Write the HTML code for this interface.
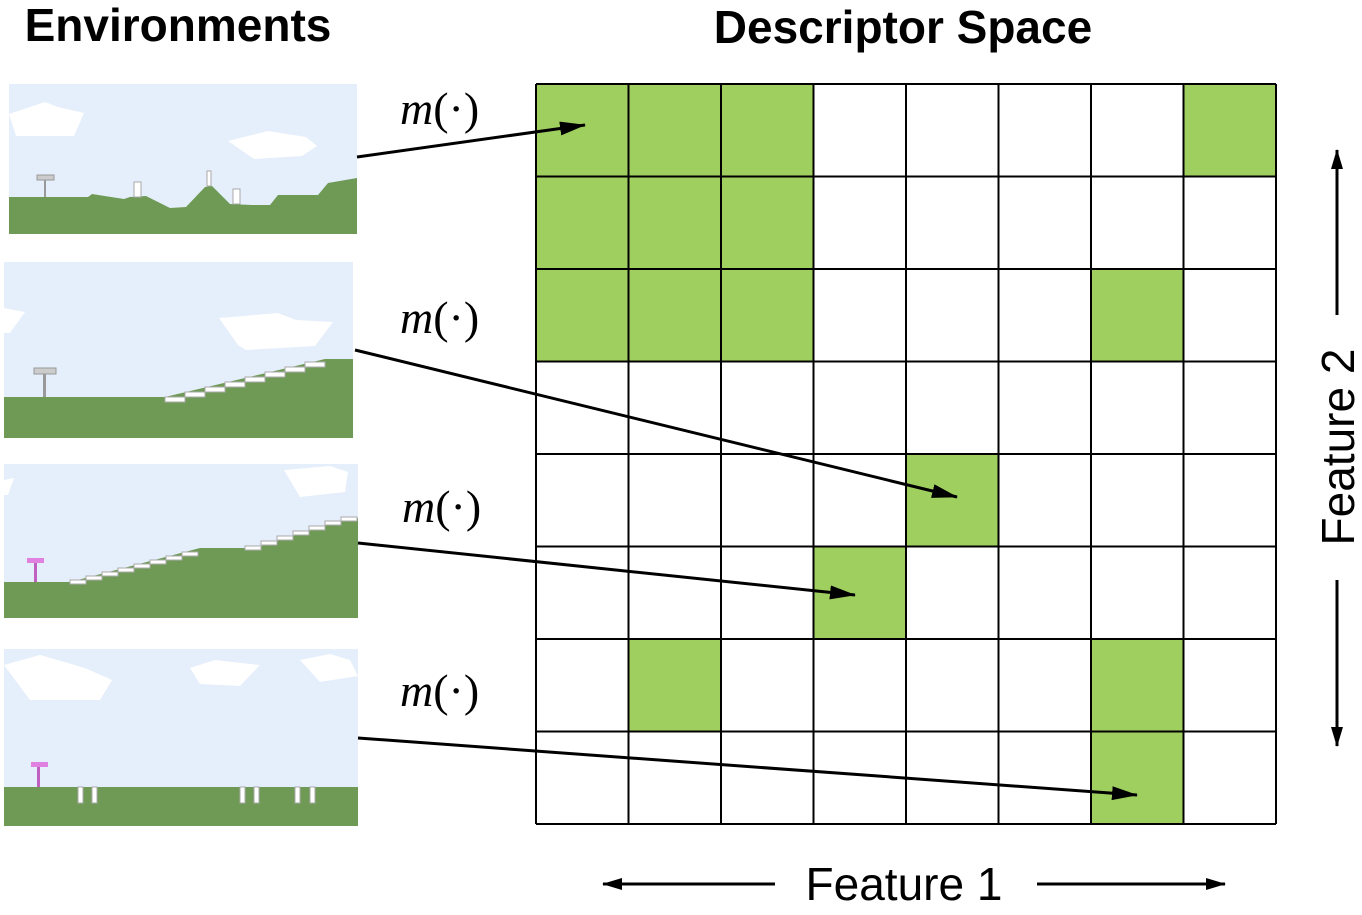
<!DOCTYPE html>
<html><head><meta charset="utf-8"><style>
body{margin:0;background:#fff;width:1362px;height:910px;overflow:hidden}
</style></head><body>
<svg id="fig" width="1362" height="910" viewBox="0 0 1362 910" xmlns="http://www.w3.org/2000/svg">
<defs><marker id="ah" markerWidth="20" markerHeight="12" refX="19" refY="6" orient="auto" markerUnits="userSpaceOnUse" viewBox="0 0 20 12"><path d="M0,0 L20,6 L0,12 z" fill="#000"/></marker>
<marker id="ah2" markerWidth="26" markerHeight="14" refX="25" refY="7" orient="auto" markerUnits="userSpaceOnUse" viewBox="0 0 26 14"><path d="M0,0 L26,7 L0,14 z" fill="#000"/></marker></defs>
<text x="178" y="41" text-anchor="middle" font-family="Liberation Sans, sans-serif" font-weight="bold" font-size="46">Environments</text>
<text x="903" y="43" text-anchor="middle" font-family="Liberation Sans, sans-serif" font-weight="bold" font-size="46">Descriptor Space</text>

<g>
<rect x="9" y="84" width="348" height="150" fill="#e5eefb"/>
<polygon points="9,114 45,102 58,107 84,113 74,136 16,136" fill="#fff"/>
<polygon points="228,141 268,131 306,137 317,146 302,156 254,159" fill="#fff"/>
<polygon points="9,197 88,197 92,194 124,199 130,197 146,196 170,208 186,207 205,187 212,186 230,204 252,205 270,205 278,195 318,195 328,183 357,178 357,234 9,234" fill="#6f9a56"/>
<rect x="134" y="182" width="7" height="15" fill="#fff" stroke="#aaa"/><rect x="207" y="171" width="4" height="15" fill="#fff" stroke="#aaa"/><rect x="233" y="189" width="7" height="15" fill="#fff" stroke="#aaa"/>
<rect x="44" y="179" width="2" height="18" fill="#999"/><rect x="37" y="175" width="17" height="5" fill="#ccc" stroke="#999"/>
</g>
<g>
<rect x="4" y="262" width="349" height="176" fill="#e5eefb"/>
<polygon points="4,308 25,312 10,333 4,333" fill="#fff"/>
<polygon points="219,318 278,313 296,320 333,322 315,346 246,350 238,345" fill="#fff"/>
<polygon points="4,397 165,397 325,359 353,359 353,438 4,438" fill="#6f9a56"/>
<g fill="#fff" stroke="#aaa"><rect x="165" y="397" width="20" height="5"/><rect x="185" y="392" width="20" height="5"/><rect x="205" y="387" width="20" height="5"/><rect x="225" y="382" width="20" height="5"/><rect x="245" y="377" width="20" height="5"/><rect x="265" y="372" width="20" height="5"/><rect x="285" y="367" width="20" height="5"/><rect x="305" y="362" width="20" height="5"/></g>
<rect x="43" y="372" width="3" height="25" fill="#999"/><rect x="34" y="368" width="22" height="6" fill="#ccc" stroke="#999"/>
</g>
<g>
<rect x="4" y="464" width="354" height="154" fill="#e5eefb"/>
<polygon points="4,480 14,478 8,495 4,495" fill="#fff"/>
<polygon points="284,470 330,466 348,472 345,492 300,497" fill="#fff"/>
<polygon points="4,582 70,582 200,548 255,548 350,518 358,518 358,618 4,618" fill="#6f9a56"/>
<g fill="#fff" stroke="#aaa"><rect x="70" y="580" width="16" height="4"/><rect x="86" y="576" width="16" height="4"/><rect x="102" y="572" width="16" height="4"/><rect x="118" y="568" width="16" height="4"/><rect x="134" y="564" width="16" height="4"/><rect x="150" y="560" width="16" height="4"/><rect x="166" y="556" width="16" height="4"/><rect x="182" y="552" width="16" height="4"/><rect x="245" y="546" width="16" height="4"/><rect x="261" y="541" width="16" height="4"/><rect x="277" y="536" width="16" height="4"/><rect x="293" y="531" width="16" height="4"/><rect x="309" y="526" width="16" height="4"/><rect x="325" y="521" width="16" height="4"/><rect x="341" y="517" width="16" height="4"/></g>
<rect x="34" y="561" width="3" height="21" fill="#c060c0"/><rect x="27" y="558" width="17" height="5" fill="#e080e0"/>
</g>
<g>
<rect x="4" y="649" width="354" height="177" fill="#e5eefb"/>
<polygon points="4,665 40,655 85,668 112,680 100,700 30,700" fill="#fff"/>
<polygon points="190,668 215,660 260,665 240,686 200,684" fill="#fff"/>
<polygon points="300,660 330,654 350,660 358,676 320,682" fill="#fff"/>
<rect x="4" y="787" width="354" height="39" fill="#6f9a56"/>
<g fill="#fff" stroke="#aaa"><rect x="78" y="787" width="5" height="16"/><rect x="92" y="787" width="5" height="16"/><rect x="240" y="787" width="5" height="16"/><rect x="254" y="787" width="5" height="16"/><rect x="295" y="787" width="5" height="16"/><rect x="310" y="787" width="5" height="16"/></g>
<rect x="37" y="766" width="3" height="21" fill="#c060c0"/><rect x="31" y="762" width="17" height="5" fill="#e080e0"/>
</g>

<g id="grid"></g>

<g font-family="Liberation Serif, serif" font-size="46">
<text x="400" y="124"><tspan font-style="italic">m</tspan>(·)</text>
<text x="400" y="333"><tspan font-style="italic">m</tspan>(·)</text>
<text x="402" y="522"><tspan font-style="italic">m</tspan>(·)</text>
<text x="400" y="706"><tspan font-style="italic">m</tspan>(·)</text>
</g>
<g stroke="#000" stroke-width="3" fill="none">
<line x1="357" y1="157" x2="585" y2="125" marker-end="url(#ah2)"/>
<line x1="355" y1="350" x2="957" y2="497" marker-end="url(#ah2)"/>
<line x1="358" y1="543" x2="855" y2="595" marker-end="url(#ah2)"/>
<line x1="358" y1="738" x2="1137" y2="795" marker-end="url(#ah2)"/>
<line x1="775" y1="884" x2="603" y2="884" marker-end="url(#ah)"/>
<line x1="1037" y1="884" x2="1225" y2="884" marker-end="url(#ah)"/>
<line x1="1337" y1="315" x2="1337" y2="150" marker-end="url(#ah)"/>
<line x1="1337" y1="580" x2="1337" y2="746" marker-end="url(#ah)"/>
</g>
<text x="904" y="900" text-anchor="middle" font-family="Liberation Sans, sans-serif" font-size="46">Feature 1</text>
<text transform="translate(1354,447) rotate(-90)" text-anchor="middle" font-family="Liberation Sans, sans-serif" font-size="46">Feature 2</text>
</svg>
<script>
const nCols = 8;
const nRows = 8;
const filledCols = [0,1,2,7, 0,1,2, 0,1,2,6, 4, 3, 1,6, 6];
const filledRows = [0,0,0,0, 1,1,1, 2,2,2,2, 4, 5, 6,6, 7];
const gx0 = 536, gy0 = 84, gw = 740, gh = 740;
const xs = c => gx0 + c * gw / nCols;
const ys = r => gy0 + r * gh / nRows;
const g = document.getElementById('grid');
const NS = 'http://www.w3.org/2000/svg';
for (let i = 0; i < filledCols.length; i++) {
  const r = document.createElementNS(NS, 'rect');
  r.setAttribute('x', xs(filledCols[i])); r.setAttribute('y', ys(filledRows[i]));
  r.setAttribute('width', gw / nCols); r.setAttribute('height', gh / nRows);
  r.setAttribute('fill', '#9fcf5f');
  
  
  g.appendChild(r);
}
for (let i = 0; i <= nCols; i++) {
  const l = document.createElementNS(NS, 'line');
  l.setAttribute('x1', xs(i)); l.setAttribute('x2', xs(i)); l.setAttribute('y1', gy0); l.setAttribute('y2', gy0 + gh);
  l.setAttribute('stroke', '#000'); l.setAttribute('stroke-width', 2);
  
  
  g.appendChild(l);
}
for (let i = 0; i <= nRows; i++) {
  const l = document.createElementNS(NS, 'line');
  l.setAttribute('y1', ys(i)); l.setAttribute('y2', ys(i)); l.setAttribute('x1', gx0); l.setAttribute('x2', gx0 + gw);
  l.setAttribute('stroke', '#000'); l.setAttribute('stroke-width', 2);
  
  
  g.appendChild(l);
}
</script>
</body></html>
